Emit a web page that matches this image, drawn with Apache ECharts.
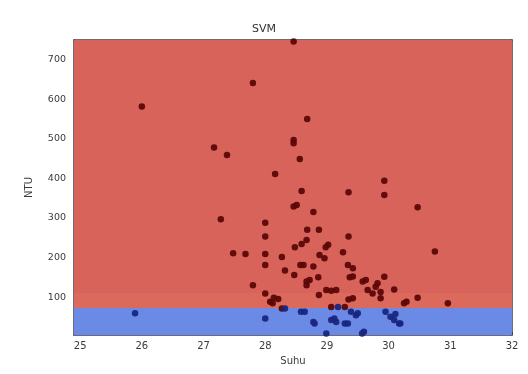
<!DOCTYPE html>
<html>
<head>
<meta charset="utf-8">
<script src="https://cdn.jsdelivr.net/npm/echarts@6/dist/echarts.min.js"></script>
<style>html,body{margin:0;padding:0;background:#fff}#c{width:528px;height:374px}</style>
</head>
<body>
<div id="c"></div>
<script>
// Axis tick labels
const xTicks = [25, 26, 27, 28, 29, 30, 31, 32];
const yTicks = [100, 200, 300, 400, 500, 600, 700];
const xRange = [24.9, 32];
const yRange = [4, 750];

// Decision regions (class 1 = high NTU, class 0 = low NTU)
const regionLow  = [4, 72, 110];
const regionHigh = [72, 110, 750];
const regionClass = [0, 1, 1];

// Class 1 samples [Suhu, NTU]
const class1Suhu = [26.0,27.8,28.46,28.68,28.46,28.46,27.17,27.38,28.56,28.16,29.93,29.93,29.35,28.59,28.46,30.47,28.78,27.28,28.0,28.68,
  28.87,28.0,29.35,28.67,28.59,28.48,28.98,27.48,27.68,28.0,29.26,30.75,28.27,28.88,28.96,28.0,28.57,28.78,29.34,28.32,
  28.47,28.86,29.37,29.93,28.67,28.67,29.58,29.82,27.8,29.66,30.09,28.99,29.07,28.87,28.0,29.74,29.87,28.14,28.08,29.35,
  30.47,30.29,30.25,30.96,28.27,29.07,29.29,28.12,28.21,29.02,28.62,29.42,29.42,28.72,29.63,29.79,29.15,29.87,28.51,29.42];
const class1NTU = [582,641,746,550,497,489,478,459,449,411,394,358,365,368,329,327,315,297,288,270,
  270,253,253,244,234,226,226,211,209,209,213,215,201,206,198,181,181,177,181,167,
  156,150,150,151,139,130,139,135,130,118,119,118,116,105,109,109,97,98,88,94,
  98,88,84,84,71,75,75,84,95,232,181,173,152,143,143,126,118,113,333,97];

// Class 0 samples [Suhu, NTU]
const class0Suhu = [25.89,28.0,28.64,28.58,28.32,28.78,28.8,29.07,29.15,29.12,29.29,29.34,29.39,29.47,29.5,29.57,29.6,28.99,29.95,30.03,30.09,30.11,30.17,30.19,29.18];
const class0NTU  = [59,46,63,63,71,37,33,42,37,46,33,33,63,54,59,8,12,8,63,50,42,57,33,33,75];

const regionColors = ['#6b8ae6', '#db6a5d', '#d8635b'];
const pointColors = ['#18267f', '#5c0707'];

const pts1 = class1Suhu.map((x, i) => [x, class1NTU[i]]);
const pts0 = class0Suhu.map((x, i) => [x, class0NTU[i]]);
const areas = regionLow.map((lo, i) => [
  { yAxis: lo, itemStyle: { color: regionColors[i], opacity: 1 } },
  { yAxis: regionHigh[i] }
]);

const txt = '#3a3a3a';
const frame = '#3c3c4c';
const chart = echarts.init(document.getElementById('c'), null, { renderer: 'canvas' });
chart.setOption({
  animation: false,
  backgroundColor: '#fff',
  title: { text: 'SVM', left: 'center', top: 19, textStyle: { fontSize: 11, fontWeight: 'normal', color: '#333', fontFamily: 'DejaVu Sans' } },
  grid: { left: 74, right: 16, top: 40, bottom: 39 },
  xAxis: [{
    type: 'value', min: xRange[0], max: xRange[1],
    name: 'Suhu', nameLocation: 'middle', nameGap: 21,
    nameTextStyle: { fontSize: 10, color: txt, fontFamily: 'DejaVu Sans' },
    axisLine: { show: true, onZero: false, lineStyle: { color: frame, width: 1.5 } },
    axisTick: { show: true, inside: true, length: 3, customValues: xTicks, lineStyle: { color: '#444' } },
    axisLabel: { customValues: xTicks, fontSize: 10, color: txt, margin: 6, fontFamily: 'DejaVu Sans' },
    splitLine: { show: false }
  }, {
    type: 'value', position: 'top', min: xRange[0], max: xRange[1],
    axisLine: { show: true, onZero: false, lineStyle: { color: frame, width: 1.5 } },
    axisTick: { show: false }, axisLabel: { show: false }, splitLine: { show: false }
  }],
  yAxis: [{
    type: 'value', min: yRange[0], max: yRange[1],
    name: 'NTU', nameLocation: 'middle', nameGap: 40, nameRotate: 90,
    nameTextStyle: { fontSize: 10, color: txt, fontFamily: 'DejaVu Sans' },
    axisLine: { show: true, onZero: false, lineStyle: { color: frame, width: 1.5 } },
    axisTick: { show: true, inside: true, length: 3, customValues: yTicks, lineStyle: { color: '#444' } },
    axisLabel: { customValues: yTicks, fontSize: 9.5, color: txt, margin: 8, fontFamily: 'DejaVu Sans' },
    splitLine: { show: false }
  }, {
    type: 'value', position: 'right', min: yRange[0], max: yRange[1],
    axisLine: { show: true, onZero: false, lineStyle: { color: frame, width: 1.5 } },
    axisTick: { show: false }, axisLabel: { show: false }, splitLine: { show: false }
  }],
  series: [
    { type: 'scatter', data: [], z: 1, silent: true,
      markArea: { silent: true, data: areas } },
    { type: 'scatter', data: pts1, z: 3, symbolSize: 6.5,
      itemStyle: { color: pointColors[1], opacity: 0.95 } },
    { type: 'scatter', data: pts0, z: 3, symbolSize: 6.5,
      itemStyle: { color: pointColors[0], opacity: 0.95 } }
  ]
});
</script>
</body>
</html>
